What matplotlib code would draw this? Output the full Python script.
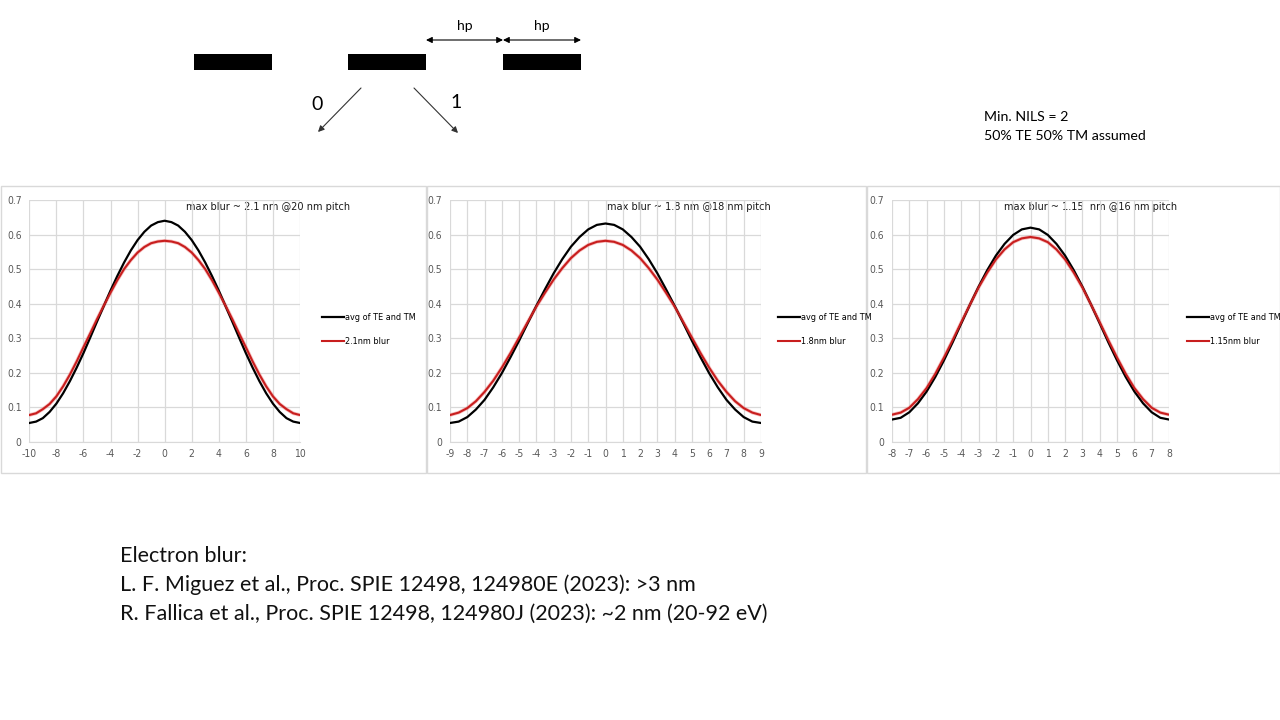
import matplotlib
matplotlib.use("Agg")
import matplotlib.pyplot as plt
from matplotlib.patches import Rectangle
from matplotlib.font_manager import FontProperties, findfont

# ---------------- data ----------------
x20 = [-10, -9.5, -9, -8.5, -8, -7.5, -7, -6.5, -6, -5.5, -5, -4.5, -4, -3.5, -3, -2.5, -2, -1.5, -1, -0.5,
       0, 0.5, 1, 1.5, 2, 2.5, 3, 3.5, 4, 4.5, 5, 5.5, 6, 6.5, 7, 7.5, 8, 8.5, 9, 9.5, 10]
avg20 = [0.055, 0.059, 0.069, 0.087, 0.111, 0.141, 0.176, 0.215, 0.257, 0.302, 0.348, 0.393, 0.438, 0.480,
         0.519, 0.554, 0.584, 0.608, 0.626, 0.636, 0.640, 0.636, 0.626, 0.608, 0.584, 0.554, 0.519, 0.480,
         0.438, 0.393, 0.348, 0.302, 0.257, 0.215, 0.176, 0.141, 0.111, 0.087, 0.069, 0.059, 0.055]
blur20 = [0.078, 0.083, 0.095, 0.110, 0.132, 0.161, 0.195, 0.233, 0.274, 0.314, 0.355, 0.394, 0.432, 0.468,
          0.500, 0.526, 0.548, 0.564, 0.575, 0.580, 0.582, 0.580, 0.575, 0.564, 0.548, 0.526, 0.500, 0.468,
          0.432, 0.394, 0.355, 0.314, 0.274, 0.233, 0.195, 0.161, 0.132, 0.110, 0.095, 0.083, 0.078]

x18 = [-9, -8.5, -8, -7.5, -7, -6.5, -6, -5.5, -5, -4.5, -4, -3.5, -3, -2.5, -2, -1.5, -1, -0.5,
       0, 0.5, 1, 1.5, 2, 2.5, 3, 3.5, 4, 4.5, 5, 5.5, 6, 6.5, 7, 7.5, 8, 8.5, 9]
avg18 = [0.055, 0.059, 0.072, 0.094, 0.122, 0.158, 0.199, 0.245, 0.293, 0.344, 0.394, 0.442, 0.488, 0.529,
         0.565, 0.593, 0.615, 0.628, 0.632, 0.628, 0.615, 0.593, 0.565, 0.529, 0.488, 0.442, 0.394, 0.344,
         0.293, 0.245, 0.199, 0.158, 0.122, 0.094, 0.072, 0.059, 0.055]
blur18 = [0.078, 0.085, 0.098, 0.118, 0.145, 0.177, 0.215, 0.257, 0.302, 0.347, 0.392, 0.432, 0.470, 0.503,
          0.532, 0.554, 0.570, 0.579, 0.582, 0.579, 0.570, 0.554, 0.532, 0.503, 0.470, 0.432, 0.392, 0.347,
          0.302, 0.257, 0.215, 0.177, 0.145, 0.118, 0.098, 0.085, 0.078]

x16 = [-8, -7.5, -7, -6.5, -6, -5.5, -5, -4.5, -4, -3.5, -3, -2.5, -2, -1.5, -1, -0.5,
       0, 0.5, 1, 1.5, 2, 2.5, 3, 3.5, 4, 4.5, 5, 5.5, 6, 6.5, 7, 7.5, 8]
avg16 = [0.065, 0.070, 0.086, 0.112, 0.146, 0.188, 0.236, 0.288, 0.343, 0.397, 0.449, 0.497, 0.539, 0.573,
         0.599, 0.615, 0.620, 0.615, 0.599, 0.573, 0.539, 0.497, 0.449, 0.397, 0.343, 0.288, 0.236, 0.188,
         0.146, 0.112, 0.086, 0.070, 0.065]
blur16 = [0.079, 0.085, 0.099, 0.124, 0.156, 0.197, 0.244, 0.294, 0.346, 0.397, 0.447, 0.490, 0.528, 0.557,
          0.578, 0.589, 0.593, 0.589, 0.578, 0.557, 0.528, 0.490, 0.447, 0.397, 0.346, 0.294, 0.244, 0.197,
          0.156, 0.124, 0.099, 0.085, 0.079]

titles = ["max blur ~ 2.1 nm @20 nm pitch", "max blur ~ 1.8 nm @18 nm pitch", "max blur ~ 1.15  nm @16 nm pitch"]
avg_label = "avg of TE and TM"
blur_labels = ["2.1nm blur", "1.8nm blur", "1.15nm blur"]
y_ticks = [0, 0.1, 0.2, 0.3, 0.4, 0.5, 0.6, 0.7]
y_ticklabels = ["0", "0.1", "0.2", "0.3", "0.4", "0.5", "0.6", "0.7"]
x_ticks = [list(range(-10, 11, 2)), list(range(-9, 10)), list(range(-8, 9))]

refs = ["Electron blur:",
        "L. F. Miguez et al., Proc. SPIE 12498, 124980E (2023): >3 nm",
        "R. Fallica et al., Proc. SPIE 12498, 124980J (2023): ~2 nm (20-92 eV)"]
notes = ["Min. NILS = 2", "50% TE 50% TM assumed"]

# ---------------- layout ----------------
W, H = 1280, 720
fig = plt.figure(figsize=(12.8, 7.2), dpi=100)
fig.patch.set_facecolor("white")

BODY = ["Lato", "DejaVu Sans"]

def narrow(size):
    return FontProperties(family="DejaVu Sans", stretch="condensed", size=size)

cond_path = findfont(FontProperties(family="DejaVu Sans", stretch="condensed"))
SCALE = 1.0 if "Condensed" in cond_path else 0.88

def fpos(x0, y0, x1, y1):
    return [x0 / W, 1 - y1 / H, (x1 - x0) / W, (y1 - y0) / H]

# overlay axes in pixel coordinates (diagram, panel frames, text)
ov = fig.add_axes([0, 0, 1, 1], zorder=0)
ov.set_xlim(0, W)
ov.set_ylim(H, 0)
ov.axis("off")
ov.patch.set_alpha(0)

# chart frames
frames = [(0, 185, 426, 473), (426, 185, 866, 473), (866, 185, 1280, 473)]
for (a, b, c, d) in frames:
    ov.add_patch(Rectangle((a + 0.5, b + 0.5), c - a - 1, d - b - 1, fill=False, ec="#d9d9d9", lw=1.0))

# top diagram: three lines (bars)
for bx in (194, 348, 503):
    ov.add_patch(Rectangle((bx, 54), 78, 16, fc="black", ec="none"))
# half pitch arrows
for (a, b) in ((426, 503), (503, 581)):
    ov.annotate("", xy=(a, 40), xytext=(b, 40),
                arrowprops=dict(arrowstyle="<|-|>", color="black", lw=0.8, mutation_scale=9, shrinkA=0, shrinkB=0))
    ov.text((a + b) / 2, 26, "hp", ha="center", va="center", fontsize=10, family=BODY)
# diffraction orders
ov.annotate("", xy=(318, 132), xytext=(361, 88),
            arrowprops=dict(arrowstyle="-|>", color="#333333", lw=0.8, mutation_scale=9, shrinkA=0, shrinkB=0))
ov.annotate("", xy=(458, 133), xytext=(414, 88),
            arrowprops=dict(arrowstyle="-|>", color="#333333", lw=0.8, mutation_scale=9, shrinkA=0, shrinkB=0))
ov.text(317, 104, "0", ha="center", va="center", fontsize=14, family=BODY)
ov.text(456, 103, "1", ha="center", va="center", fontsize=14, family=BODY)

# notes
ov.text(984, 117, notes[0], ha="left", va="center", fontsize=10.2, family=BODY)
ov.text(984, 136, notes[1], ha="left", va="center", fontsize=10.2, family=BODY)

# references
for i, t in enumerate(refs):
    ov.text(120, 556 + 29 * i, t, ha="left", va="center", fontsize=15.5, family=BODY, color="#111111")

# ---------------- charts ----------------
plot_boxes = [(29.3, 200, 300, 442), (450, 200, 761, 442), (892, 200, 1169, 442)]
title_pos = [(268, 207), (689, 207), (1091, 207)]
legend_pos = [(322, 313), (778, 313), (1187, 313)]
series = [(x20, avg20, blur20), (x18, avg18, blur18), (x16, avg16, blur16)]

for i in range(3):
    xs, ya, yb = series[i]
    ax = fig.add_axes(fpos(*plot_boxes[i]), zorder=2)
    ax.patch.set_alpha(0)
    ax.plot(xs, yb, color="#f08080", lw=2.6, alpha=0.5, solid_capstyle="butt")
    ax.plot(xs, ya, color="black", lw=1.6, label=avg_label)
    ax.plot(xs, yb, color="#c81e1e", lw=1.5, label=blur_labels[i])
    ax.set_xlim(xs[0], xs[-1])
    ax.set_ylim(0, 0.7)
    ax.set_yticks(y_ticks)
    ax.set_yticklabels(y_ticklabels)
    ax.set_xticks(x_ticks[i])
    ax.set_xticklabels([str(v) for v in x_ticks[i]])
    ax.grid(True, color="#d9d9d9", lw=0.9)
    ax.set_axisbelow(True)
    for s in ("top", "right", "left"):
        ax.spines[s].set_visible(False)
    ax.spines["bottom"].set_color("#d9d9d9")
    ax.tick_params(length=0, labelcolor="#595959", pad=5)
    ax.tick_params(axis="y", pad=5.5)
    for lab in ax.get_xticklabels() + ax.get_yticklabels():
        lab.set_fontproperties(narrow(7.5 * SCALE))
    tx, ty = title_pos[i]
    ov.text(tx, ty, titles[i], ha="center", va="center", fontproperties=narrow(7.8 * SCALE),
            color="#1a1a1a", zorder=3)
    lx, ly = legend_pos[i]
    handles, labels = ax.get_legend_handles_labels()
    ax.legend(handles, labels, loc="upper left", bbox_to_anchor=(lx / W, 1 - ly / H),
              bbox_transform=fig.transFigure, frameon=False, borderpad=0, borderaxespad=0,
              handlelength=2.4, handletextpad=0.15, labelspacing=1.65,
              prop=narrow(6.5 * SCALE))

fig.savefig("out.png", dpi=100, facecolor="white")
